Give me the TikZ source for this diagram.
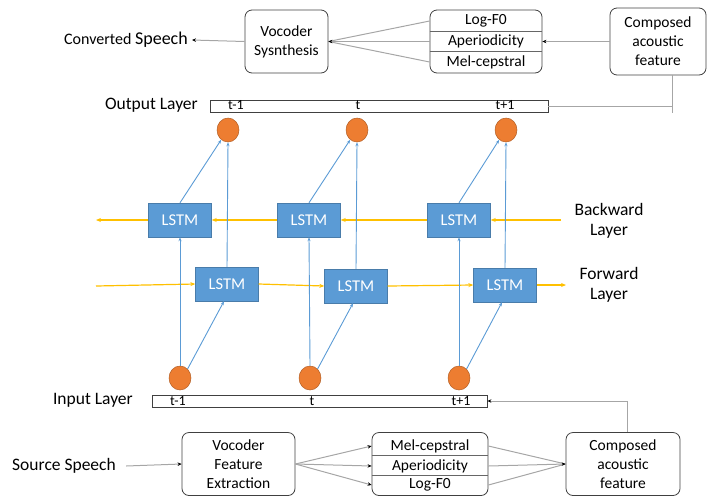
\documentclass[tikz,border=0pt]{standalone}
\usepackage{fontspec}
\setmainfont{Carlito}
\usetikzlibrary{arrows.meta,calc,shapes.geometric}
\definecolor{lblue}{HTML}{5B9BD5}
\definecolor{lorange}{HTML}{ED7D31}
\definecolor{lyellow}{HTML}{FFC000}
\begin{document}
\begin{tikzpicture}[x=1pt,y=-1pt,
  rbox/.style={draw=black!75, line width=0.8pt, rounded corners=7pt, align=center, inner sep=0pt, font=\fontsize{15.5}{19}\selectfont},
  rowtxt/.style={inner sep=0pt, font=\fontsize{15.5}{17}\selectfont},
  lbl/.style={inner sep=0pt, font=\fontsize{17.5}{20}\selectfont, align=center},
  bar/.style={draw=black!75, line width=0.8pt, fill=white, inner sep=0pt},
  bartxt/.style={inner sep=0pt, font=\fontsize{14}{14}\selectfont},
  lstm/.style={fill=lblue, draw=lblue!80!black, line width=0.4pt, text=white, minimum width=63pt, minimum height=34pt, inner sep=0pt, font=\fontsize{16.5}{16}\selectfont},
  neuron/.style={ellipse, fill=lorange, draw=lorange!75!black, line width=0.5pt, minimum width=22pt, minimum height=24pt, inner sep=0pt},
  gline/.style={draw=black!35, line width=1pt},
  garr/.style={gline, -{Stealth[length=4pt,width=3.5pt,black]}},
  barr/.style={draw=lblue, line width=0.9pt, -{Stealth[length=4pt,width=3pt]}},
  yarr/.style={draw=lyellow, line width=1.2pt, -{Stealth[length=5pt,width=4pt]}}
]
\useasboundingbox (0,0) rectangle (711,496);

% ---------- top row ----------
\node[rbox, minimum width=83pt, minimum height=63pt] (voc) at (286.5,41.5) {Vocoder\\Sysnthesis};
\node[rbox, minimum width=112pt, minimum height=63pt] (ftop) at (486,41.5) {};
\draw[black!60, line width=0.8pt] ($(ftop.west)+(0,-10)$) -- ($(ftop.east)+(0,-10)$);
\draw[black!60, line width=0.8pt] ($(ftop.west)+(0,10)$) -- ($(ftop.east)+(0,10)$);
\node[rowtxt] (tf0) at (486,21) {Log-F0};
\node[rowtxt] (tap) at (486,41.5) {Aperiodicity};
\node[rowtxt] (tmc) at (486,62) {Mel-cepstral};
\node[rbox, minimum width=96pt, minimum height=67pt] (ctop) at (658,41.5) {Composed\\acoustic\\feature};
\node[inner sep=0pt, anchor=east] (cs) at (188,40) {\fontsize{16}{18}\selectfont Converted \fontsize{18}{18}\selectfont Speech};

\draw[garr] (ctop.west) -- (ftop.east);
\draw[gline] (ftop.west |- tf0) -- (voc.east);
\draw[gline] (ftop.west |- tmc) -- (voc.east);
\draw[garr] (ftop.west |- tap) -- (voc.east);
\draw[garr] (voc.west) -- ($(cs.east)+(4,0)$);

% ---------- output layer ----------
\node[lbl, anchor=east] (olbl) at (198,105) {Output Layer};
\node[bar, minimum width=338pt, minimum height=12pt] (obar) at (379,106) {};
\node[bartxt] (ot1) at (236,105.5) {t-1};
\node[bartxt] (ot2) at (358,105.5) {t};
\node[bartxt] (ot3) at (505,105.5) {t+1};
\coordinate (oc) at (672,106);
\coordinate (oe) at (672,113);
\draw[gline] (obar.east) -- (oc);
\draw[gline] (ctop.south -| oc) -- (oe);

% ---------- neurons ----------
\node[neuron] (o1) at (228,130) {};
\node[neuron] (o2) at (357,130) {};
\node[neuron] (o3) at (506,130) {};
\node[neuron] (i1) at (180,378) {};
\node[neuron] (i2) at (310,378) {};
\node[neuron] (i3) at (459,378) {};

% ---------- LSTM ----------
\node[lstm] (b1) at (180,220) {LSTM};
\node[lstm] (b2) at (309,220) {LSTM};
\node[lstm] (b3) at (459,220) {LSTM};
\node[lstm] (f1) at (227,284) {LSTM};
\node[lstm] (f2) at (356,286) {LSTM};
\node[lstm] (f3) at (505,285) {LSTM};

\node[lbl] (bl) at (609,221) {Backward\\Layer};
\node[lbl] (fl) at (609,285) {Forward\\Layer};

% yellow recurrent arrows
\coordinate (bR) at (561,220);
\coordinate (bL) at (96,220);
\coordinate (fL) at (96,286);
\coordinate (fR) at (566,285);
\draw[yarr] (bR) -- (b3.east);
\draw[yarr] (b3.west) -- (b2.east);
\draw[yarr] (b2.west) -- (b1.east);
\draw[yarr] (b1.west) -- (bL);
\draw[yarr] (fL) -- (f1.west);
\draw[yarr] (f1.east) -- (f2.west);
\draw[yarr] (f2.east) -- (f3.west);
\draw[yarr] (f3.east) -- (fR);

% blue arrows
\foreach \k in {1,2,3}{
  \draw[barr] (i\k.north) -- (b\k.south);
  \draw[barr] (i\k.50) -- ($(f\k.south)+(-3,0)$);
  \draw[barr] (f\k.north) -- (o\k.south);
  \draw[barr] (b\k.north) -- (o\k.235);
}

% ---------- input layer ----------
\node[lbl, anchor=east] (ilbl) at (133,400) {Input Layer};
\node[bar, minimum width=335pt, minimum height=12pt] (ibar) at (319.5,401) {};
\node[bartxt] (it1) at (178,401.5) {t-1};
\node[bartxt] (it2) at (312,401.5) {t};
\node[bartxt] (it3) at (461,401.5) {t+1};

% ---------- bottom row ----------
\node[rbox, minimum width=113pt, minimum height=63pt] (vfe) at (238.5,464) {Vocoder\\Feature\\Extraction};
\node[rbox, minimum width=116pt, minimum height=63pt] (fbot) at (430,464) {};
\draw[black!60, line width=0.8pt] ($(fbot.west)+(0,-8.5)$) -- ($(fbot.east)+(0,-8.5)$);
\draw[black!60, line width=0.8pt] ($(fbot.west)+(0,11)$) -- ($(fbot.east)+(0,11)$);
\node[rowtxt] (bmc) at (430,446) {Mel-cepstral};
\node[rowtxt] (bap) at (430,466) {Aperiodicity};
\node[rowtxt] (bf0) at (430,485) {Log-F0};
\node[rbox, minimum width=114pt, minimum height=63pt] (cbot) at (623,464) {Composed\\acoustic\\feature};
\node[lbl, anchor=west] (ss) at (12,466) {Source Speech};

\draw[garr] ($(ss.east)+(10,0)$) -- (vfe.west);
\draw[garr] (vfe.east) -- (fbot.west |- bmc);
\draw[garr] (vfe.east) -- (fbot.west |- bap);
\draw[garr] (vfe.east) -- (fbot.west |- bf0);
\draw[gline] (fbot.east |- bmc) -- (cbot.west);
\draw[gline] (fbot.east |- bf0) -- (cbot.west);
\draw[garr] (fbot.east |- bap) -- (cbot.west);

\coordinate (ic) at (627,401);
\draw[garr] (cbot.north -| ic) -- (ic) -- (ibar.east);
\end{tikzpicture}
\end{document}
